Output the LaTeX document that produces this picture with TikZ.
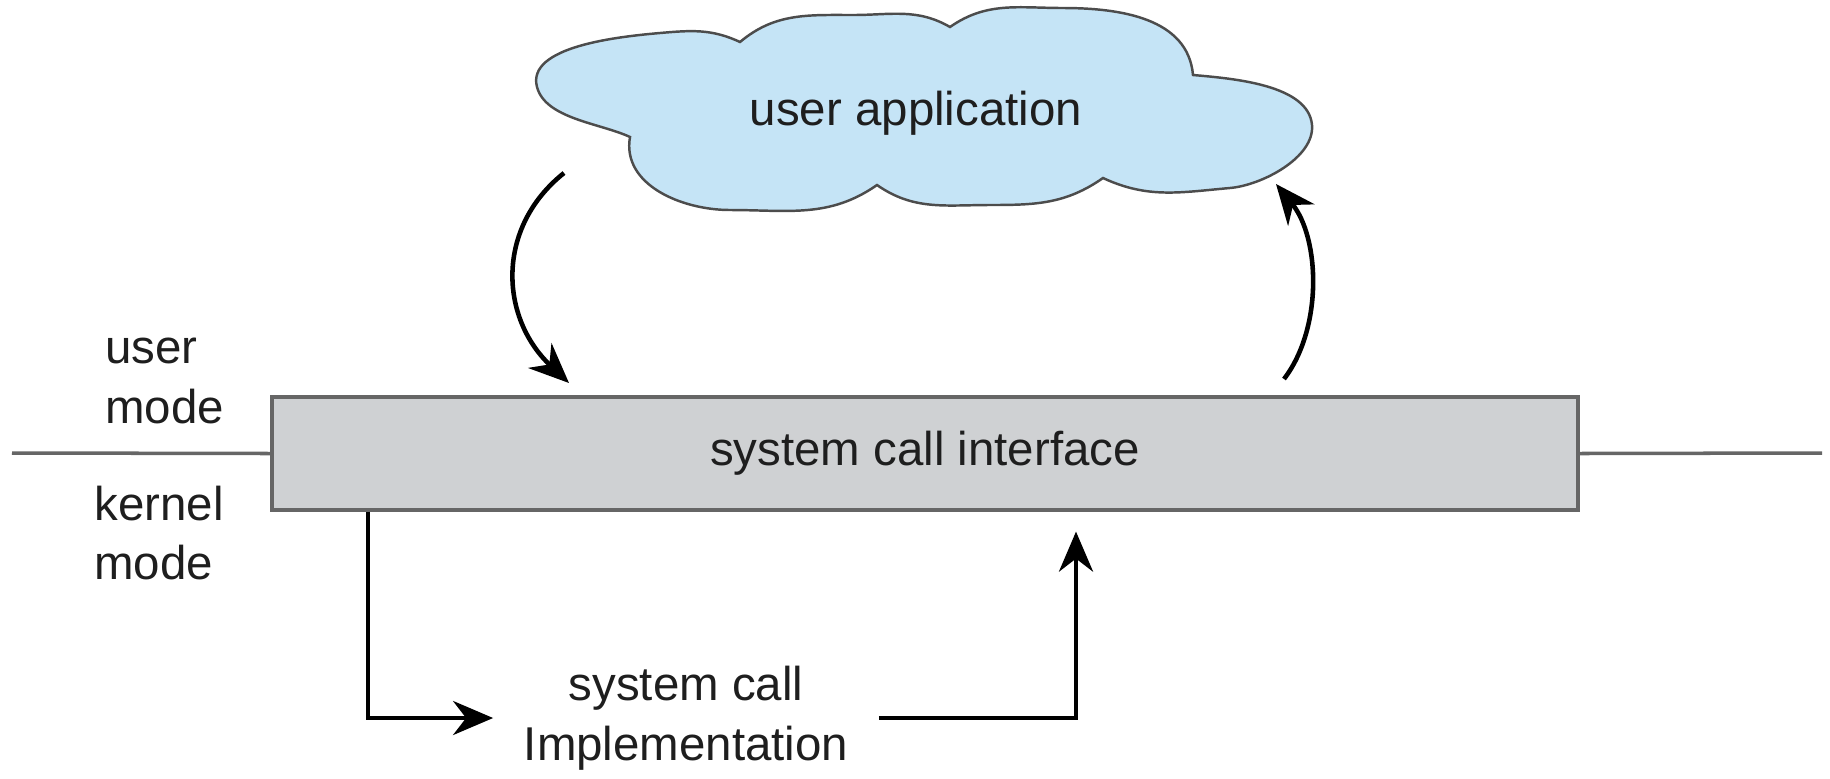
\documentclass[tikz,border=0pt]{standalone}
\usepackage{fontspec}
\setmainfont{Liberation Sans}
\usepackage{xcolor}
\usepackage{tikz}
\usetikzlibrary{arrows.meta,positioning}

\definecolor{cloudblue}{RGB}{197,228,246}
\definecolor{boxgray}{RGB}{207,209,211}
\definecolor{inkgray}{RGB}{30,30,30}

\begin{document}
\begin{tikzpicture}[>={Stealth[length=4mm,width=3.4mm]},
    every node/.style={text=inkgray, font=\fontsize{13.5}{17}\selectfont},
    flow/.style={->, line width=1.3pt, black},
    modeline/.style={line width=1pt, gray!80!black}]
    \useasboundingbox (0,0) rectangle (18.3,7.78);

    \draw[gray!60!black, line width=0.7pt, fill=cloudblue]
        (6.30,6.41) to[out=155,in=-75,looseness=0.8] (5.37,6.91)
        to[out=105,in=185,looseness=0.8] (6.60,7.45)
        to[out=5,in=155] (7.40,7.36) to[out=40,in=180] (8.53,7.63)
        to[out=0,in=150] (9.50,7.51) to[out=35,in=180] (10.63,7.70)
        to[out=0,in=95] (11.93,7.03) to[out=-5,in=95,looseness=0.8] (13.12,6.53)
        to[out=-85,in=5,looseness=0.8] (12.30,5.90) to[out=185,in=-25] (11.03,6.00)
        to[out=215,in=0] (9.90,5.73) to[out=180,in=-35] (8.77,5.93)
        to[out=215,in=0] (7.30,5.68) to[out=180,in=-100] cycle;
    \node (app) at (9.16,6.65) {user application};

    \node[draw=gray!80!black, line width=0.9pt, fill=boxgray, minimum width=13.06cm,
          minimum height=1.13cm] (sci) at (9.25,3.245) {system call interface};

    \coordinate (lft) at (0.12,3.25);
    \coordinate (rgt) at (18.22,3.25);
    \draw[modeline] (lft) -- (sci.west);
    \draw[modeline] (sci.east) -- (rgt);

    \node[anchor=west, align=left] (umode) at (0.93,3.97) {user\\mode};
    \node[anchor=west, align=left] (kmode) at (0.82,2.45) {kernel\\mode};

    \node[align=center, inner sep=3mm] (impl) at (6.86,0.60) {system call\\Implementation};

    \coordinate (callout) at (5.64,6.05);
    \coordinate (callin) at (5.69,3.95);
    \coordinate (retout) at (12.84,3.99);
    \coordinate (retin) at (12.76,5.94);
    \draw[flow] (callout) .. controls (4.95,5.5) and (5.0,4.6) .. (callin);
    \draw[flow] (retout) .. controls (13.23,4.5) and (13.2,5.4) .. (retin);

    \draw[flow] ([xshift=-5.57cm]sci.south) |- (impl.west);
    \draw[flow] (impl.east) -| ([xshift=1.51cm, yshift=-2mm]sci.south);
\end{tikzpicture}
\end{document}
